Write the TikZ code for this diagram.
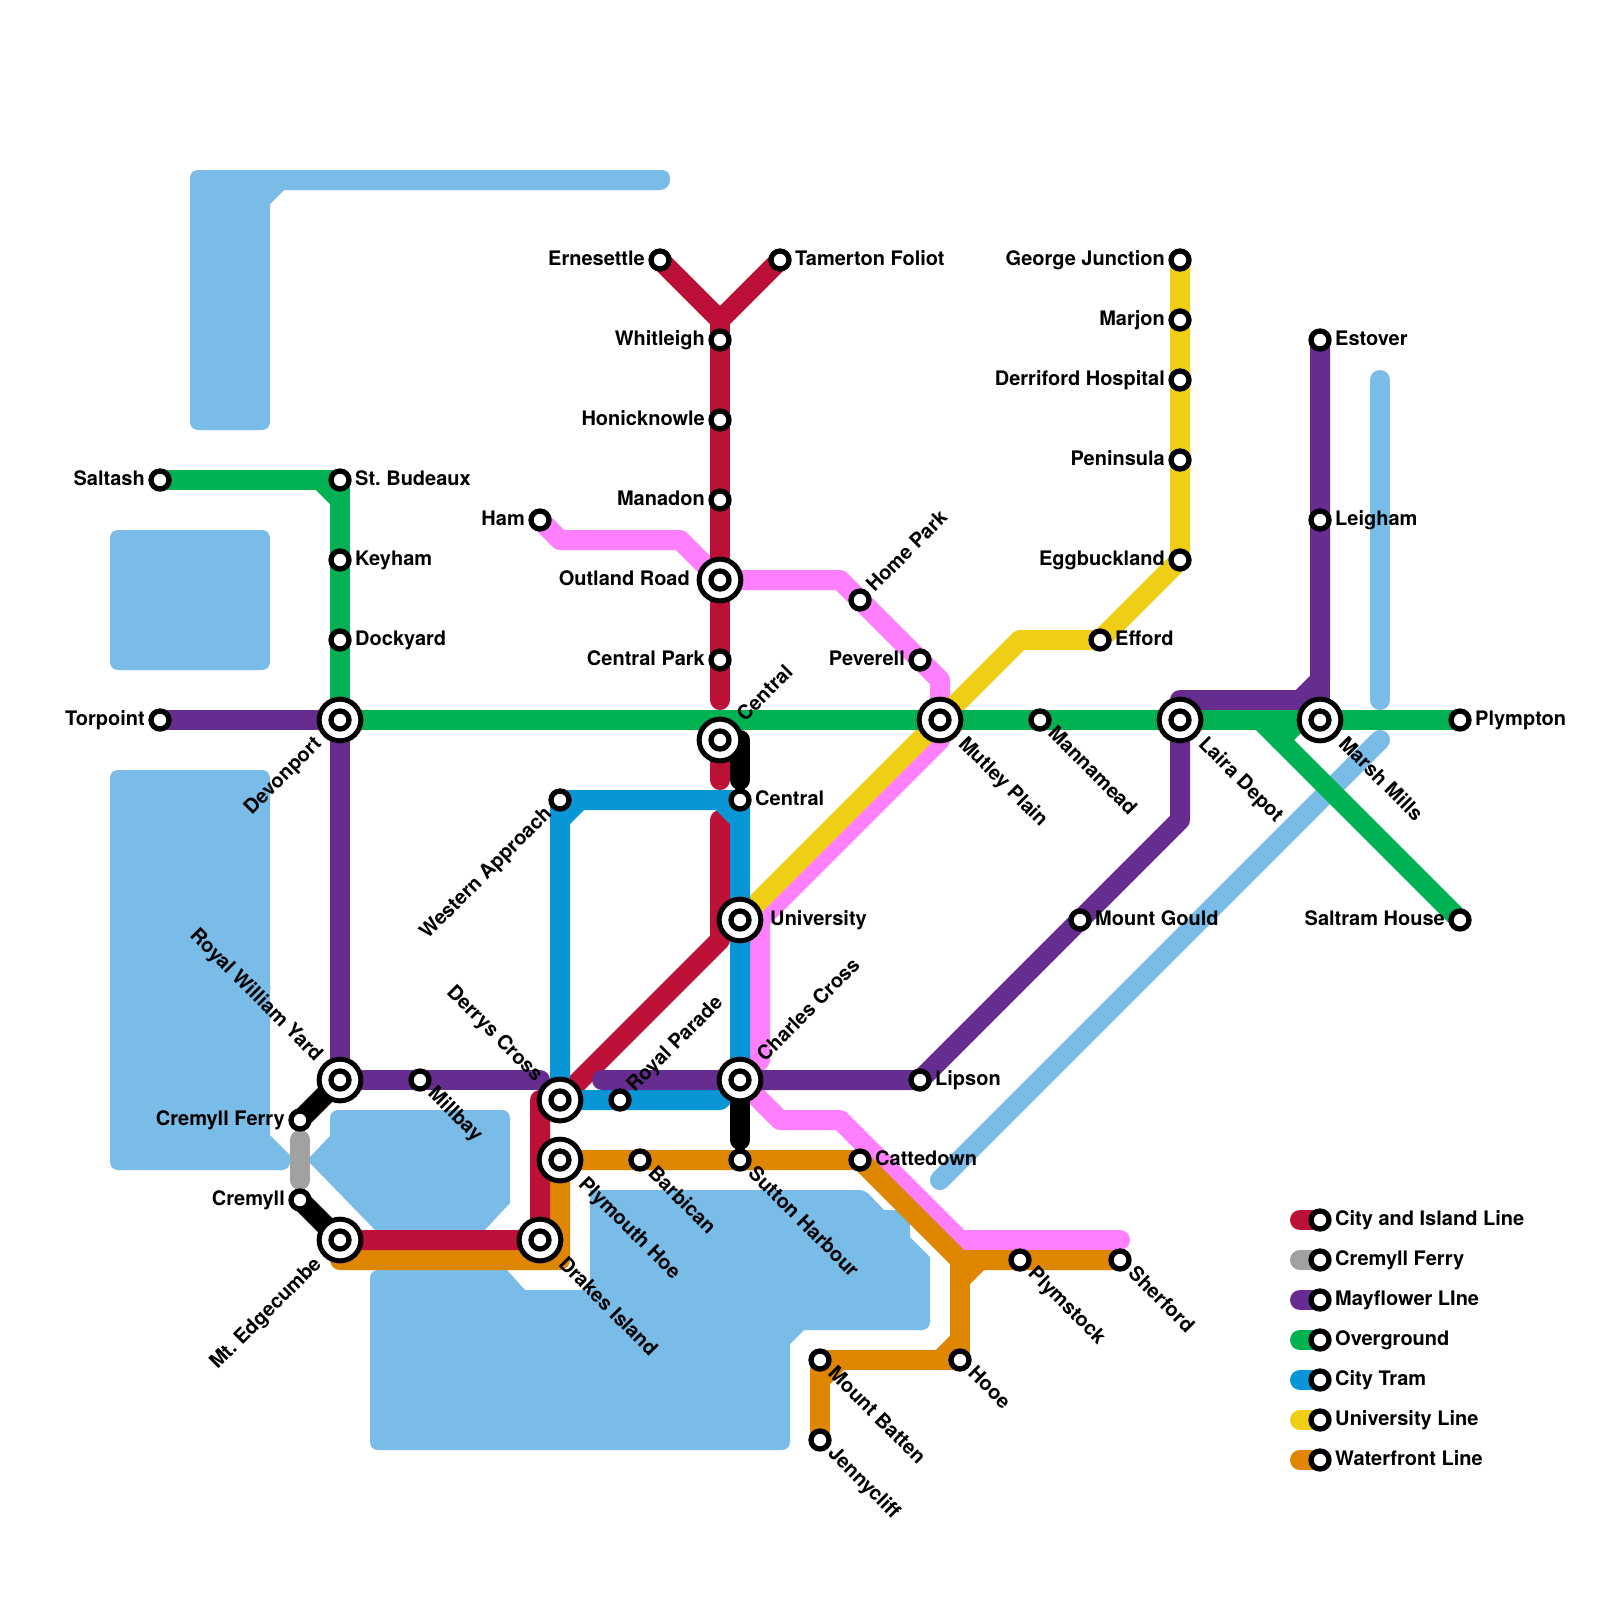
\documentclass[tikz,border=0pt]{standalone}
\usepackage{fontspec}
\setmainfont{TeX Gyre Heros}
\usetikzlibrary{calc}
\definecolor{cwater}{HTML}{79BCE8}
\definecolor{cred}{HTML}{BD1038}
\definecolor{cgrey}{HTML}{A1A1A1}
\definecolor{cpurple}{HTML}{662C90}
\definecolor{cgreen}{HTML}{00B251}
\definecolor{ctram}{HTML}{0896D7}
\definecolor{cyellow}{HTML}{F0CE15}
\definecolor{corange}{HTML}{DF8600}
\definecolor{cpink}{HTML}{FF80FF}
\pgfdeclarelayer{bg}
\pgfsetlayers{bg,main}
\tikzset{
  ln/.style={line width=20pt,line cap=round,line join=round},
  waterarea/.style={fill=cwater,draw=none,rounded corners=8pt},
  stnsmall/.style={circle,draw=black,fill=white,line width=5.3pt,minimum size=18pt,inner sep=0pt},
  stnbig/.style={circle,draw=black,fill=white,line width=5pt,minimum size=41.7pt,inner sep=0pt},
  lbl/.style={inner sep=0pt,font=\frenchspacing\bfseries\fontsize{20}{24}\selectfont,text=black}
}
\newcommand{\stn}[3]{\node[stnsmall] (#1) at (#2,#3) {};}
\newcommand{\hub}[3]{\node[stnbig] (#1) at (#2,#3) {};\node[stnsmall] (#1i) at (#2,#3) {};}
\newcommand{\txt}[6]{\node[lbl,rotate=#4,anchor=#5] (t#1) at ($(#1.center)+(#2,#3)$) {#6};}
% small station labels
\newcommand{\R}[2]{\txt{#1}{15}{5.5}{0}{base west}{#2}}
\newcommand{\Lf}[2]{\txt{#1}{-15}{5.5}{0}{base east}{#2}}
\newcommand{\DR}[2]{\txt{#1}{7}{14.5}{-45}{base west}{#2}}
\newcommand{\UR}[2]{\txt{#1}{14.5}{-7}{45}{base west}{#2}}
\newcommand{\DL}[2]{\txt{#1}{-7}{14.5}{45}{base east}{#2}}
% hub labels
\newcommand{\bR}[2]{\txt{#1}{30}{5.5}{0}{base west}{#2}}
\newcommand{\bLf}[2]{\txt{#1}{-30}{5.5}{0}{base east}{#2}}
\newcommand{\bDR}[2]{\txt{#1}{17.5}{25}{-45}{base west}{#2}}
\newcommand{\bUR}[2]{\txt{#1}{25}{-17.5}{45}{base west}{#2}}
\newcommand{\bDL}[2]{\txt{#1}{-17.5}{25}{45}{base east}{#2}}
\newcommand{\bUL}[2]{\txt{#1}{-25}{-17.5}{-45}{base east}{#2}}
\begin{document}
\begin{tikzpicture}[x=1pt,y=-1pt]
\useasboundingbox (0,0) rectangle (1600,1600);
% stations
\stn{saltash}{160}{480}\stn{budeaux}{340}{480}\stn{keyham}{340}{560}\stn{dockyard}{340}{640}
\hub{devonport}{340}{720}\stn{torpoint}{160}{720}
\hub{rwy}{340}{1080}\stn{millbay}{420}{1080}\hub{derrys}{560}{1100}\hub{phoe}{560}{1160}
\hub{drakes}{540}{1240}\hub{edge}{340}{1240}\stn{cferry}{300}{1120}\stn{cremyll}{300}{1200}
\stn{ernesettle}{660}{260}\stn{tamerton}{780}{260}\stn{whitleigh}{720}{340}\stn{honick}{720}{420}
\stn{manadon}{720}{500}\hub{outland}{720}{580}\stn{cpark}{720}{660}\hub{centralb}{720}{740}
\stn{centrals}{740}{800}\hub{univ}{740}{920}\hub{charles}{740}{1080}\stn{royal}{620}{1100}
\stn{western}{560}{800}\stn{ham}{540}{520}\stn{homepark}{860}{600}\stn{peverell}{920}{660}
\hub{mutley}{940}{720}\stn{lipson}{920}{1080}\stn{gould}{1080}{920}\hub{laira}{1180}{720}
\stn{mannamead}{1040}{720}\hub{marsh}{1320}{720}\stn{plympton}{1460}{720}\stn{saltram}{1460}{920}
\stn{estover}{1320}{340}\stn{leigham}{1320}{520}\stn{george}{1180}{260}\stn{marjon}{1180}{320}
\stn{derriford}{1180}{380}\stn{peninsula}{1180}{460}\stn{egg}{1180}{560}\stn{efford}{1100}{640}
\stn{sutton}{740}{1160}\stn{barbican}{640}{1160}\stn{cattedown}{860}{1160}\stn{plymstock}{1020}{1260}
\stn{sherford}{1120}{1260}\stn{hooe}{960}{1360}\stn{batten}{820}{1360}\stn{jenny}{820}{1440}
% legend stations
\stn{k1}{1320}{1220}\stn{k2}{1320}{1260}\stn{k3}{1320}{1300}\stn{k4}{1320}{1340}\stn{k5}{1320}{1380}\stn{k6}{1320}{1420}\stn{k7}{1320}{1460}
\coordinate (k1a) at (1300,1220);\coordinate (k2a) at (1300,1260);\coordinate (k3a) at (1300,1300);\coordinate (k4a) at (1300,1340);\coordinate (k5a) at (1300,1380);\coordinate (k6a) at (1300,1420);\coordinate (k7a) at (1300,1460);
% bends
\coordinate (r1) at (720,320);\coordinate (r2) at (720,700);\coordinate (r3) at (720,780);\coordinate (r4) at (720,820);\coordinate (r5) at (720,940);\coordinate (r6) at (540,1100);
\coordinate (g1) at (320,480);\coordinate (g2) at (340,500);\coordinate (g3) at (1260,720);\coordinate (g4) at (1300,720);\coordinate (g5) at (1280,740);
\coordinate (t1) at (560,820);\coordinate (t2) at (580,800);\coordinate (t3) at (720,800);\coordinate (t4) at (740,820);\coordinate (t5) at (720,1100);
\coordinate (p1) at (540,1080);\coordinate (p2) at (602,1080);\coordinate (p3) at (1180,820);\coordinate (p4) at (1180,700);\coordinate (p5) at (1300,700);\coordinate (p6) at (1320,680);
\coordinate (y1) at (1020,640);
\coordinate (o1) at (340,1260);\coordinate (o2) at (560,1260);\coordinate (o3) at (960,1260);\coordinate (o4) at (980,1260);\coordinate (o5) at (960,1280);\coordinate (o6) at (960,1340);\coordinate (o7) at (940,1360);\coordinate (o8) at (840,1360);\coordinate (o9) at (820,1380);
\coordinate (m1) at (560,540);\coordinate (m2) at (680,540);\coordinate (m3) at (840,580);\coordinate (m4) at (940,680);\coordinate (m5) at (760,920);\coordinate (m6) at (760,1060);\coordinate (m7) at (780,1120);\coordinate (m8) at (840,1120);\coordinate (m9) at (960,1240);\coordinate (m10) at (1120,1240);\coordinate (m11) at (940,740);
\coordinate (b1) at (740,740);\coordinate (b2) at (740,780);\coordinate (b3) at (740,1140);
\coordinate (c1) at (300,1140);\coordinate (c2) at (300,1180);
\coordinate (w1) at (1380,380);\coordinate (w2) at (1380,700);\coordinate (w3) at (1380,740);\coordinate (w4) at (940,1180);
\begin{pgfonlayer}{bg}
\fill[white] (0,0) rectangle (1600,1600);
% water
\path[waterarea] (190,170) -- (670,170) [rounded corners=10pt] -- (670,190) [sharp corners] -- (284,190) -- (270,204) [rounded corners=8pt] -- (270,430) -- (190,430) -- cycle;
\path[waterarea] (110,530) -- (270,530) -- (270,670) -- (110,670) -- cycle;
\path[waterarea] (110,770) -- (270,770) [sharp corners] -- (270,1135) -- (290,1155) [rounded corners=8pt] -- (290,1170) -- (110,1170) -- cycle;
\path[waterarea] (330,1125) -- (330,1110) -- (510,1110) [sharp corners] -- (510,1203) -- (483,1232) -- (377,1232) -- (310,1163) -- (310,1157) -- (330,1136) -- cycle;
\path[waterarea] (370,1270) [sharp corners] -- (507,1270) -- (525,1290) -- (590,1290) -- (590,1190) [rounded corners=6pt] -- (865,1190) [sharp corners] -- (884,1210) -- (910,1210) -- (910,1237) -- (930,1257) [rounded corners=8pt] -- (930,1330) [sharp corners] -- (804,1330) -- (790,1344) [rounded corners=8pt] -- (790,1450) -- (370,1450) -- cycle;
\draw[ln,cwater] (w1) -- (w2);
\draw[ln,cwater] (w3) -- (w4);
% lines
\draw[ln,cpink] (ham.center) -- (m1) -- (m2) -- (outland.center) -- (m3) -- (m4) -- (mutley.center);
\draw[ln,cpink] (m11) -- (m5) -- (m6) -- (charles.center) -- (m7) -- (m8) -- (m9) -- (m10);
\draw[ln,cyellow] (george.center) -- (egg.center) -- (efford.center) -- (y1) -- (univ.center);
\draw[ln,corange] (edge.center) -- (o1) -- (o2) -- (phoe.center) -- (cattedown.center) -- (o3) -- (sherford.center);
\draw[ln,corange] (o3) -- (hooe.center) -- (batten.center) -- (jenny.center);
\draw[ln,corange] (o4) -- (o5);
\draw[ln,corange] (o6) -- (o7);
\draw[ln,corange] (o8) -- (o9);
\draw[ln,cgrey] (c1) -- (c2);
\draw[ln,cred] (ernesettle.center) -- (r1) -- (tamerton.center);
\draw[ln,cred] (r1) -- (r2);
\draw[ln,cred] (centralb.center) -- (r3);
\draw[ln,cred] (r4) -- (r5) -- (derrys.center) -- (r6) -- (drakes.center) -- (edge.center);
\draw[ln,ctram] (derrys.center) -- (western.center) -- (centrals.center) -- (charles.center) -- (t5) -- (derrys.center);
\draw[ln,ctram] (t1) -- (t2);
\draw[ln,ctram] (t3) -- (t4);
\draw[ln,cpurple] (torpoint.center) -- (devonport.center) -- (rwy.center) -- (p1);
\draw[ln,cpurple] (p2) -- (lipson.center) -- (p3) -- (laira.center);
\draw[ln,cpurple] (laira.center) -- (p4) -- (p5) -- (p6) -- (estover.center);
\draw[ln,cpurple] (p6) -- (marsh.center);
\draw[ln,cgreen] (saltash.center) -- (budeaux.center) -- (devonport.center) -- (plympton.center);
\draw[ln,cgreen] (g1) -- (g2);
\draw[ln,cgreen] (g3) -- (saltram.center);
\draw[ln,cgreen] (g4) -- (g5);
\draw[ln,black] (centralb.center) -- (b1) -- (b2);
\draw[ln,black] (charles.center) -- (b3);
\draw[ln,black] (rwy.center) -- (cferry.center);
\draw[ln,black] (cremyll.center) -- (edge.center);
% legend stubs
\draw[ln,cred] (k1a) -- (k1.center);
\draw[ln,cgrey] (k2a) -- (k2.center);
\draw[ln,cpurple] (k3a) -- (k3.center);
\draw[ln,cgreen] (k4a) -- (k4.center);
\draw[ln,ctram] (k5a) -- (k5.center);
\draw[ln,cyellow] (k6a) -- (k6.center);
\draw[ln,corange] (k7a) -- (k7.center);
\end{pgfonlayer}
% labels
\Lf{saltash}{Saltash}\R{budeaux}{St. Budeaux}\R{keyham}{Keyham}\R{dockyard}{Dockyard}
\bDL{devonport}{Devonport}\Lf{torpoint}{Torpoint}
\bUL{rwy}{Royal William Yard}\DR{millbay}{Millbay}\bUL{derrys}{Derrys Cross}\bDR{phoe}{Plymouth Hoe}
\bDR{drakes}{Drakes Island}\bDL{edge}{Mt. Edgecumbe}\Lf{cferry}{Cremyll Ferry}\Lf{cremyll}{Cremyll}
\Lf{ernesettle}{Ernesettle}\R{tamerton}{Tamerton Foliot}\Lf{whitleigh}{Whitleigh}\Lf{honick}{Honicknowle}
\Lf{manadon}{Manadon}\bLf{outland}{Outland Road}\Lf{cpark}{Central Park}\bUR{centralb}{Central}
\R{centrals}{Central}\bR{univ}{University}\bUR{charles}{Charles Cross}\UR{royal}{Royal Parade}
\DL{western}{Western Approach}\Lf{ham}{Ham}\UR{homepark}{Home Park}\Lf{peverell}{Peverell}
\bDR{mutley}{Mutley Plain}\R{lipson}{Lipson}\R{gould}{Mount Gould}\bDR{laira}{Laira Depot}
\DR{mannamead}{Mannamead}\bDR{marsh}{Marsh Mills}\R{plympton}{Plympton}\Lf{saltram}{Saltram House}
\R{estover}{Estover}\R{leigham}{Leigham}\Lf{george}{George Junction}\Lf{marjon}{Marjon}
\Lf{derriford}{Derriford Hospital}\Lf{peninsula}{Peninsula}\Lf{egg}{Eggbuckland}\R{efford}{Efford}
\DR{sutton}{Sutton Harbour}\DR{barbican}{Barbican}\R{cattedown}{Cattedown}\DR{plymstock}{Plymstock}
\DR{sherford}{Sherford}\DR{hooe}{Hooe}\DR{batten}{Mount Batten}\DR{jenny}{Jennycliff}
\R{k1}{City and Island Line}\R{k2}{Cremyll Ferry}\R{k3}{Mayflower LIne}\R{k4}{Overground}\R{k5}{City Tram}\R{k6}{University Line}\R{k7}{Waterfront Line}
\end{tikzpicture}
\end{document}
